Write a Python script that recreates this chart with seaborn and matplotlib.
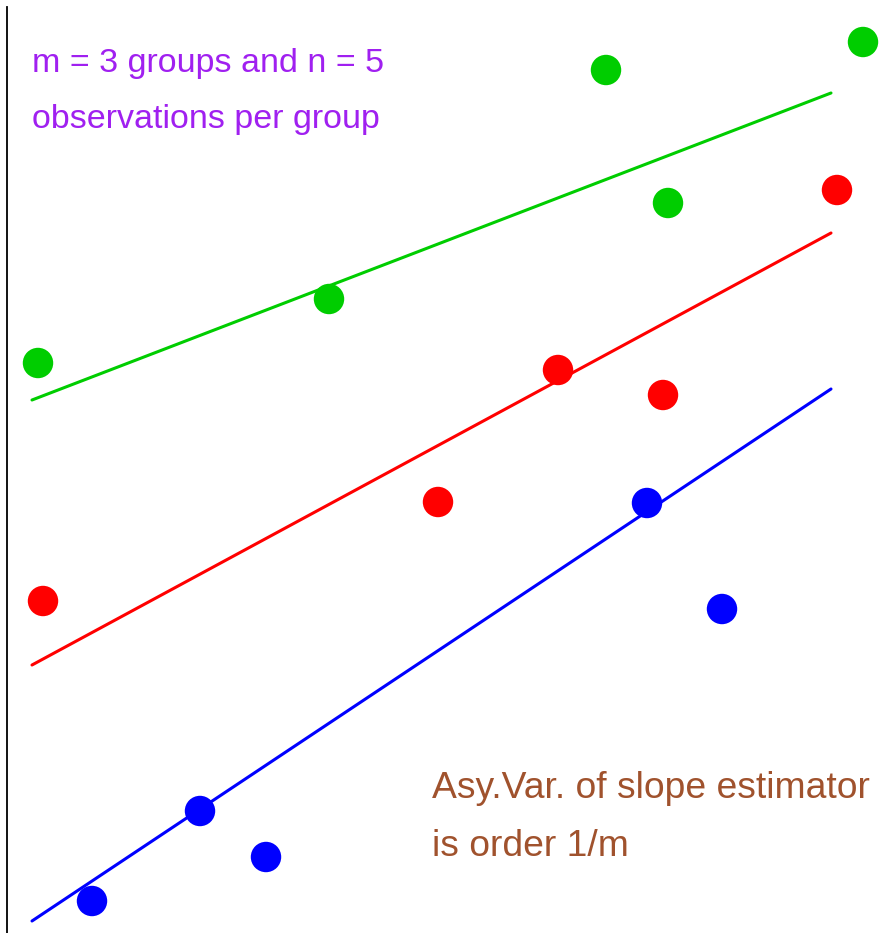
import numpy as np
import pandas as pd
import seaborn as sns
import matplotlib.pyplot as plt

# points (x right, y up)
green_x = [38, 329, 606, 668, 863]
green_y = [570, 634, 863, 730, 891]
red_x = [43, 438, 558, 663, 837]
red_y = [332, 431, 563, 538, 743]
blue_x = [92, 200, 266, 647, 722]
blue_y = [32, 122, 76, 430, 324]

# fitted lines: y at the two ends of line_x
line_x = [32, 831]
green_line = [533, 840]
red_line = [268, 700]
blue_line = [12, 544]

colors = {"green": "#00CD00", "red": "#FF0000", "blue": "#0000FF"}

pts = pd.concat([
    pd.DataFrame({"x": green_x, "y": green_y, "group": "green"}),
    pd.DataFrame({"x": red_x, "y": red_y, "group": "red"}),
    pd.DataFrame({"x": blue_x, "y": blue_y, "group": "blue"}),
])
lines = pd.concat([
    pd.DataFrame({"x": line_x, "y": green_line, "group": "green"}),
    pd.DataFrame({"x": line_x, "y": red_line, "group": "red"}),
    pd.DataFrame({"x": line_x, "y": blue_line, "group": "blue"}),
])

sns.set_style("white")
plt.rcParams["font.family"] = ["Liberation Sans", "DejaVu Sans"]

fig = plt.figure(figsize=(8.86, 9.33), dpi=100)
ax = fig.add_axes([0, 0, 1, 1])

sns.lineplot(data=lines, x="x", y="y", hue="group", palette=colors,
             linewidth=2.2, legend=False, ax=ax)
sns.scatterplot(data=pts, x="x", y="y", hue="group", palette=colors,
                s=480, edgecolor="none", legend=False, ax=ax, zorder=3)

ax.set_xlim(0, 886)
ax.set_ylim(0, 933)
ax.set_xticks([])
ax.set_yticks([])
ax.set_xlabel("")
ax.set_ylabel("")
for side in ["top", "right", "bottom"]:
    ax.spines[side].set_visible(False)
ax.spines["left"].set_position(("data", 7))
ax.spines["left"].set_bounds(0, 926)
ax.spines["left"].set_linewidth(1.3)
ax.spines["left"].set_color("black")

ax.text(32, 861, "m = 3 groups and n = 5", color="#A020F0", fontsize=24.5,
        va="baseline")
ax.text(32, 805, "observations per group", color="#A020F0", fontsize=24.5,
        va="baseline")
ax.text(432, 135, "Asy.Var. of slope estimator", color="#A0522D", fontsize=26.8,
        va="baseline")
ax.text(432, 77, "is order 1/m", color="#A0522D", fontsize=26.8,
        va="baseline")

fig.savefig("out.png", dpi=100)
